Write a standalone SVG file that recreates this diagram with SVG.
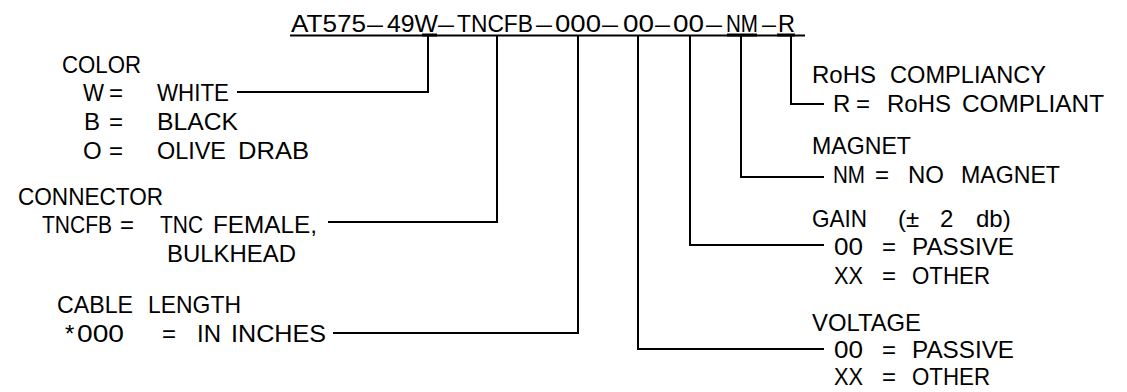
<svg xmlns="http://www.w3.org/2000/svg" width="1127" height="392" viewBox="0 0 1127 392">
<style>
text{font-family:"Liberation Sans",Arial,sans-serif;font-size:24px;fill:#000}
.ln{fill:none;stroke:#000;stroke-width:2;stroke-linejoin:miter}
.tk{stroke:#000;stroke-width:3}
</style>
<rect width="1127" height="392" fill="#fff"/>
<g id="title">
<text y="32"><tspan x="291" textLength="75" lengthAdjust="spacingAndGlyphs">AT575</tspan><tspan x="367" textLength="16" lengthAdjust="spacingAndGlyphs">–</tspan><tspan x="387" textLength="51" lengthAdjust="spacingAndGlyphs">49W</tspan><tspan x="438" textLength="16" lengthAdjust="spacingAndGlyphs">–</tspan><tspan x="457" textLength="76" lengthAdjust="spacingAndGlyphs">TNCFB</tspan><tspan x="536" textLength="16" lengthAdjust="spacingAndGlyphs">–</tspan><tspan x="555" textLength="46" lengthAdjust="spacingAndGlyphs">000</tspan><tspan x="602" textLength="16" lengthAdjust="spacingAndGlyphs">–</tspan><tspan x="623" textLength="31" lengthAdjust="spacingAndGlyphs">00</tspan><tspan x="655" textLength="15" lengthAdjust="spacingAndGlyphs">–</tspan><tspan x="673" textLength="31" lengthAdjust="spacingAndGlyphs">00</tspan><tspan x="706" textLength="16" lengthAdjust="spacingAndGlyphs">–</tspan><tspan x="726" textLength="32" lengthAdjust="spacingAndGlyphs">NM</tspan><tspan x="762" textLength="14" lengthAdjust="spacingAndGlyphs">–</tspan><tspan x="778" textLength="17" lengthAdjust="spacingAndGlyphs">R</tspan></text>
<line class="ln" x1="290" y1="35.5" x2="805" y2="35.5"/>
<line class="tk" x1="422" y1="35" x2="437" y2="35"/>
<line class="tk" x1="727" y1="35" x2="757" y2="35"/>
<line class="tk" x1="777" y1="35" x2="795" y2="35"/>
</g>
<g id="color">
<text x="62" y="73" textLength="79" lengthAdjust="spacingAndGlyphs">COLOR</text>
<text y="101"><tspan x="83" textLength="21" lengthAdjust="spacingAndGlyphs">W</tspan><tspan x="109">=</tspan><tspan x="157" textLength="72" lengthAdjust="spacingAndGlyphs">WHITE</tspan></text>
<text y="130"><tspan x="84">B</tspan><tspan x="109">=</tspan><tspan x="157" textLength="81" lengthAdjust="spacingAndGlyphs">BLACK</tspan></text>
<text y="159"><tspan x="83">O</tspan><tspan x="109">=</tspan><tspan x="157" textLength="69" lengthAdjust="spacingAndGlyphs">OLIVE</tspan><tspan x="238" textLength="71" lengthAdjust="spacingAndGlyphs">DRAB</tspan></text>
</g>
<g id="connector">
<text x="18" y="205" textLength="145" lengthAdjust="spacingAndGlyphs">CONNECTOR</text>
<text y="233"><tspan x="42" textLength="70" lengthAdjust="spacingAndGlyphs">TNCFB</tspan><tspan x="120">=</tspan><tspan x="160" textLength="43" lengthAdjust="spacingAndGlyphs">TNC</tspan><tspan x="213" textLength="104" lengthAdjust="spacingAndGlyphs">FEMALE,</tspan></text>
<text x="167" y="262" textLength="129" lengthAdjust="spacingAndGlyphs">BULKHEAD</text>
</g>
<g id="cable-length">
<text y="313"><tspan x="57" textLength="76" lengthAdjust="spacingAndGlyphs">CABLE</tspan><tspan x="148" textLength="93" lengthAdjust="spacingAndGlyphs">LENGTH</tspan></text>
<text y="342"><tspan x="65">*</tspan><tspan x="77" textLength="47" lengthAdjust="spacingAndGlyphs">000</tspan><tspan x="162">=</tspan><tspan x="197">IN</tspan><tspan x="231" textLength="95" lengthAdjust="spacingAndGlyphs">INCHES</tspan></text>
</g>
<g id="rohs">
<text y="83"><tspan x="812" textLength="64" lengthAdjust="spacingAndGlyphs">RoHS</tspan><tspan x="890" textLength="156" lengthAdjust="spacingAndGlyphs">COMPLIANCY</tspan></text>
<text y="112"><tspan x="833">R</tspan><tspan x="856">=</tspan><tspan x="887" textLength="64" lengthAdjust="spacingAndGlyphs">RoHS</tspan><tspan x="962" textLength="142" lengthAdjust="spacingAndGlyphs">COMPLIANT</tspan></text>
</g>
<g id="magnet">
<text x="812" y="154" textLength="99" lengthAdjust="spacingAndGlyphs">MAGNET</text>
<text y="183"><tspan x="833" textLength="32" lengthAdjust="spacingAndGlyphs">NM</tspan><tspan x="875">=</tspan><tspan x="908">NO</tspan><tspan x="961" textLength="99" lengthAdjust="spacingAndGlyphs">MAGNET</tspan></text>
</g>
<g id="gain">
<text y="227"><tspan x="812" textLength="55" lengthAdjust="spacingAndGlyphs">GAIN</tspan><tspan x="898">(±</tspan><tspan x="940">2</tspan><tspan x="976">db)</tspan></text>
<text y="255"><tspan x="834" textLength="29" lengthAdjust="spacingAndGlyphs">00</tspan><tspan x="882">=</tspan><tspan x="912" textLength="102" lengthAdjust="spacingAndGlyphs">PASSIVE</tspan></text>
<text y="284"><tspan x="834" textLength="29" lengthAdjust="spacingAndGlyphs">XX</tspan><tspan x="882">=</tspan><tspan x="912" textLength="78" lengthAdjust="spacingAndGlyphs">OTHER</tspan></text>
</g>
<g id="voltage">
<text x="812" y="331" textLength="109" lengthAdjust="spacingAndGlyphs">VOLTAGE</text>
<text y="358"><tspan x="834" textLength="29" lengthAdjust="spacingAndGlyphs">00</tspan><tspan x="882">=</tspan><tspan x="912" textLength="102" lengthAdjust="spacingAndGlyphs">PASSIVE</tspan></text>
<text y="385"><tspan x="834" textLength="29" lengthAdjust="spacingAndGlyphs">XX</tspan><tspan x="882">=</tspan><tspan x="912" textLength="78" lengthAdjust="spacingAndGlyphs">OTHER</tspan></text>
</g>
<g id="connectors">
<polyline class="ln" points="428,36 428,92 237,92"/>
<polyline class="ln" points="497,36 497,222 328,222"/>
<polyline class="ln" points="578,36 578,333 333,333"/>
<polyline class="ln" points="638,36 638,349 824,349"/>
<polyline class="ln" points="690,36 690,245 824,245"/>
<polyline class="ln" points="741,36 741,177 824,177"/>
<polyline class="ln" points="791,36 791,104 824,104"/>
</g>
</svg>
